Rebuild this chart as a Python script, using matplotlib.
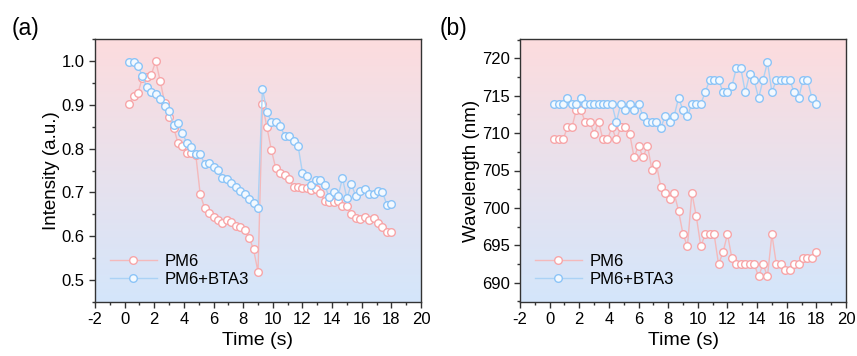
import numpy as np
import matplotlib
matplotlib.use("Agg")
import matplotlib.pyplot as plt
from matplotlib.colors import LinearSegmentedColormap
from matplotlib.ticker import MultipleLocator, FormatStrFormatter

plt.rcParams['font.family'] = ['Liberation Sans', 'DejaVu Sans']
plt.rcParams['axes.unicode_minus'] = False

time = [round(0.3 * i, 1) for i in range(1, 61)]

intensity_pm6 = [0.901, 0.921, 0.927, 0.962, 0.963, 0.969, 1.000, 0.954, 0.905, 0.871,
                 0.848, 0.813, 0.807, 0.790, 0.790, 0.786, 0.696, 0.664, 0.654, 0.645,
                 0.637, 0.631, 0.638, 0.633, 0.624, 0.622, 0.615, 0.597, 0.570, 0.519,
                 0.901, 0.849, 0.797, 0.755, 0.744, 0.739, 0.730, 0.713, 0.713, 0.709,
                 0.710, 0.706, 0.708, 0.699, 0.680, 0.678, 0.678, 0.680, 0.670, 0.670,
                 0.650, 0.642, 0.639, 0.644, 0.638, 0.642, 0.631, 0.622, 0.610, 0.610]

intensity_bta3 = [0.998, 0.998, 0.989, 0.965, 0.940, 0.930, 0.924, 0.914, 0.898, 0.885,
                  0.853, 0.859, 0.836, 0.812, 0.803, 0.787, 0.788, 0.764, 0.768, 0.759,
                  0.752, 0.734, 0.730, 0.721, 0.713, 0.703, 0.697, 0.686, 0.676, 0.665,
                  0.937, 0.884, 0.861, 0.861, 0.851, 0.829, 0.829, 0.817, 0.807, 0.745,
                  0.738, 0.717, 0.729, 0.729, 0.717, 0.689, 0.700, 0.692, 0.732, 0.687,
                  0.719, 0.691, 0.703, 0.708, 0.696, 0.697, 0.704, 0.700, 0.672, 0.674]

wavelength_pm6 = [709.15, 709.15, 709.15, 710.76, 710.76, 713.12, 713.12, 711.51, 711.51, 709.95,
                  711.51, 709.15, 709.15, 710.76, 709.15, 710.76, 710.76, 709.95, 706.74, 708.34,
                  706.74, 708.34, 705.13, 705.93, 702.81, 702.00, 701.25, 702.00, 699.60, 696.47,
                  694.86, 702.00, 698.85, 694.86, 696.47, 696.47, 696.47, 692.45, 694.06, 696.47,
                  693.26, 692.45, 692.45, 692.45, 692.45, 692.45, 690.84, 692.45, 690.84, 696.47,
                  692.45, 692.45, 691.65, 691.65, 692.45, 692.45, 693.26, 693.26, 693.26, 694.06]

wavelength_bta3 = [713.9, 713.9, 713.9, 714.7, 713.9, 713.9, 714.7, 713.9, 713.9, 713.9,
                   713.9, 713.9, 713.9, 713.9, 711.5, 713.9, 713.1, 713.9, 713.1, 713.9,
                   712.3, 711.5, 711.5, 711.5, 710.7, 712.3, 711.5, 712.3, 714.7, 713.1,
                   712.3, 713.9, 713.9, 713.9, 715.5, 717.1, 717.1, 717.1, 715.5, 715.5,
                   716.3, 718.7, 718.7, 715.5, 717.9, 717.1, 714.7, 717.1, 719.5, 715.5,
                   717.1, 717.1, 717.1, 717.1, 715.5, 714.7, 717.1, 717.1, 714.7, 713.9]

labels = ["PM6", "PM6+BTA3"]
xticks = list(range(-2, 21, 2))

W, H = 857, 356
fig = plt.figure(figsize=(W / 100, H / 100), dpi=100)

pink_line = "#F4B9BB"
pink_edge = "#F7A5A8"
blue_line = "#ABD2F5"
blue_edge = "#8CC4F7"

cmap = LinearSegmentedColormap.from_list("bg", ["#D4E6FB", "#FDDCDE"])
grad = np.linspace(0, 1, 256).reshape(-1, 1)


def make_axes(rect, y1, y2, ylim, ymajor, yminor, ylabel, ylabelpad):
    ax = fig.add_axes(rect)
    ax.imshow(grad, cmap=cmap, origin="lower", aspect="auto",
              extent=[0, 1, 0, 1], transform=ax.transAxes, zorder=0)
    ax.plot(time, y1, color=pink_line, lw=1.0, marker="o", ms=5.5,
            mfc="white", mec=pink_edge, mew=1.0, label=labels[0], zorder=3)
    ax.plot(time, y2, color=blue_line, lw=1.0, marker="o", ms=5.5,
            mfc="#F3F9FF", mec=blue_edge, mew=1.0, label=labels[1], zorder=3)
    ax.set_xlim(-2, 20)
    ax.set_ylim(*ylim)
    ax.set_xticks(xticks)
    ax.set_xticklabels([str(t) for t in xticks])
    ax.xaxis.set_minor_locator(MultipleLocator(1))
    ax.yaxis.set_major_locator(MultipleLocator(ymajor))
    ax.yaxis.set_minor_locator(MultipleLocator(yminor))
    ax.tick_params(which="both", direction="out", top=False, right=False,
                   labelsize=12, color="#333333", width=1.0, pad=3)
    ax.tick_params(which="major", length=4.5)
    ax.tick_params(which="minor", length=2.5)
    for s in ax.spines.values():
        s.set_color("#333333")
        s.set_linewidth(1.0)
    ax.set_xlabel("Time (s)", fontsize=14, labelpad=3)
    ax.set_ylabel(ylabel, fontsize=13.5, labelpad=ylabelpad)
    ax.legend(loc="lower left", frameon=False, fontsize=12,
              handlelength=2.8, handletextpad=0.5, labelspacing=0.2,
              borderaxespad=0.5)
    return ax


ax1 = make_axes([95 / W, 1 - 302 / H, 326 / W, 263 / H],
                intensity_pm6, intensity_bta3, (0.45, 1.05), 0.1, 0.05,
                "Intensity (a.u.)", 1)
ax1.yaxis.set_major_formatter(FormatStrFormatter("%.1f"))

ax2 = make_axes([520 / W, 1 - 302 / H, 326 / W, 263 / H],
                wavelength_pm6, wavelength_bta3, (687.4, 722.6), 5, 2.5,
                "Wavelength (nm)", 1)

fig.text(12 / W, 1 - 29 / H, "(a)", fontsize=16.5, ha="left", va="center")
fig.text(440 / W, 1 - 29 / H, "(b)", fontsize=16.5, ha="left", va="center")

fig.savefig("out.png", dpi=100)
